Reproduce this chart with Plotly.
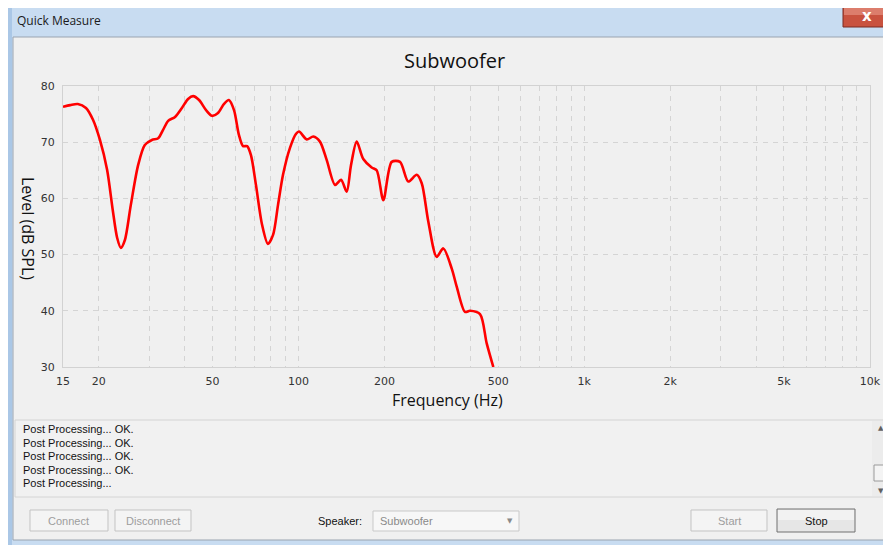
import plotly.graph_objects as go

# page body has an 8px margin, so the figure is drawn 8px in from the top-left
OX, OY = 8, 8
W, H = 891, 545

# ---- data ----
freq_hz = [15.0, 15.9, 16.9, 18.05, 19.1, 20.2, 21.4, 22.4, 23.2, 23.9, 24.7, 25.9, 27.5, 29.0,
           30.7, 32.3, 33.6, 35.0, 37.0, 39.1, 41.1, 42.8, 44.9, 47.5, 49.8, 52.3, 54.9, 57.1,
           59.5, 61.9, 64.0, 66.1, 68.2, 71.0, 74.6, 78.2, 81.5, 84.8, 88.3, 93.4, 98.1, 100.5,
           106.9, 112.7, 118.9, 125.6, 134.3, 140.9, 147.5, 152.7, 159.9, 168.6, 180.4, 187.8,
           198.2, 212.0, 226.7, 242.3, 259.3, 270.0, 284.7, 304.6, 321.3, 343.9, 357.9, 382.6,
           398.4, 431.8, 455.8, 480.8]
level_db = [76.3, 76.6, 76.8, 76.1, 74.0, 70.4, 65.1, 57.9, 53.0, 51.2, 52.6, 58.8, 66.0, 69.5,
            70.4, 70.7, 72.2, 73.8, 74.5, 76.1, 77.7, 78.2, 77.5, 75.7, 74.7, 75.2, 76.8, 77.5,
            75.7, 71.3, 69.3, 69.3, 67.7, 62.4, 55.3, 51.9, 53.5, 58.8, 64.2, 69.0, 71.5, 71.9,
            70.5, 71.0, 70.1, 66.8, 62.4, 63.3, 61.2, 65.9, 70.1, 67.0, 65.5, 65.0,
            59.7, 66.5, 66.5, 63.0, 64.2, 62.7, 55.9, 49.6, 51.1, 47.5, 44.3, 39.8,
            40.0, 39.4, 34.2, 30.0]

x_tick_vals = [15, 20, 50, 100, 200, 500, 1000, 2000, 5000, 10000]
x_tick_text = ["15", "20", "50", "100", "200", "500", "1k", "2k", "5k", "10k"]
x_grid_vals = [20, 30, 40, 50, 60, 70, 80, 90, 100, 200, 300, 400, 500, 600, 700, 800, 900,
               1000, 2000, 3000, 4000, 5000, 6000, 7000, 8000, 9000]
y_tick_vals = [30, 40, 50, 60, 70, 80]

log_lines = ["Post Processing... OK.", "Post Processing... OK.", "Post Processing... OK.",
             "Post Processing... OK.", "Post Processing..."]

# ---- helpers for pixel placement (page pixel coords) of window chrome ----
def px(x):
    return (x - OX) / W

def py(y):
    return 1 - (y - OY) / H

def rect(x0, y0, x1, y1, fill, line=None, lw=1):
    return dict(type="rect", xref="paper", yref="paper", x0=px(x0), x1=px(x1), y0=py(y1), y1=py(y0),
                fillcolor=fill, line=dict(color=line if line else fill, width=lw if line else 0),
                layer="below")

def text(x, y, s, size=11, color="#000", anchor="left", font="Liberation Sans", angle=0):
    return dict(x=px(x), y=py(y), xref="paper", yref="paper", text=s, showarrow=False,
                xanchor=anchor, yanchor="middle", textangle=angle,
                font=dict(size=size, color=color, family=font))

shapes = [
    rect(OX - 3, OY - 3, 905, 560, "#c8dcf1", "#5a6a7e", 1),
    rect(OX - 3, OY, 12, 545, "#aac7e6"),
    rect(13, 37, 905, 540, "#f0f0f0", "#9aa4b0", 1),
    rect(843, 7, 905, 27, "#c9523f", "#7a2a22", 1),
    rect(844, 8, 905, 15, "#dc7d6c"),
    # log box
    rect(15, 420, 889, 497, "#f1f1f1", "#d4d4d4", 1),
    rect(872, 421, 888, 496, "#ececec"),
    rect(874, 465, 887, 481, "#f4f4f4", "#9a9a9a", 1),
    # buttons
    rect(30, 510, 108, 531, "#f4f4f4", "#c3c3c3", 1),
    rect(115, 510, 191, 531, "#f4f4f4", "#c3c3c3", 1),
    rect(373, 511, 519, 531, "#f7f7f7", "#c9c9c9", 1),
    rect(691, 510, 767, 531, "#f4f4f4", "#c3c3c3", 1),
    rect(777, 509, 855, 532, "#e6e6e6", "#707070", 1),
    rect(778, 510, 854, 520, "#f2f2f2"),
]

annotations = [
    text(15, 21, "Quick Measure", 12, "#1a1a1a", font="Open Sans"),
    text(867, 16, "<b>x</b>", 15, "#ffffff", anchor="center", font="DejaVu Sans"),
    text(454, 61, "Subwoofer", 20, "#111111", anchor="center", font="Open Sans"),
    text(447, 400, "Frequency (Hz)", 16, "#111111", anchor="center", font="Open Sans"),
    text(28, 228, "Level (dB SPL)", 16, "#111111", anchor="center", font="Open Sans", angle=90),
    text(881, 428, "▲", 7, "#606060", anchor="center", font="DejaVu Sans"),
    text(881, 491, "▼", 7, "#606060", anchor="center", font="DejaVu Sans"),
    text(69, 521, "Connect", 11, "#9d9d9d", anchor="center"),
    text(153, 521, "Disconnect", 11, "#9d9d9d", anchor="center"),
    text(316, 521, "Speaker:", 11, "#111111"),
    text(378, 521, "Subwoofer", 11, "#8a8a8a"),
    text(510, 521, "▼", 7, "#8a8a8a", anchor="center", font="DejaVu Sans"),
    text(729, 521, "Start", 11, "#9d9d9d", anchor="center"),
    text(816, 521, "Stop", 11, "#111111", anchor="center"),
]
for i, s in enumerate(log_lines):
    annotations.append(text(21, 429 + i * 13.6, s, 11, "#111111"))

fig = go.Figure()
fig.add_trace(go.Scatter(x=freq_hz, y=level_db, mode="lines",
                         line=dict(color="#ff0000", width=2.6, shape="spline", smoothing=0.8),
                         hoverinfo="skip", showlegend=False))

grid_col = "#d4d4d4"
fig.update_layout(
    width=W, height=H,
    margin=dict(l=0, r=0, t=0, b=0, pad=0, autoexpand=False),
    paper_bgcolor="#ffffff",
    plot_bgcolor="#f0f0f0",
    showlegend=False,
    shapes=shapes,
    annotations=annotations,
    xaxis=dict(type="log", range=[1.176091, 4.0], domain=[px(63), px(870)],
               tickmode="array", tickvals=x_tick_vals, ticktext=x_tick_text,
               showgrid=False, zeroline=False,
               showline=True, mirror=True, linecolor="#d2d2d2", linewidth=1,
               ticks="outside", ticklen=4, tickcolor="rgba(0,0,0,0)",
               tickfont=dict(family="DejaVu Sans", size=11, color="#333333"),
               minor=dict(tickmode="array", tickvals=x_grid_vals, showgrid=True,
                          gridcolor=grid_col, griddash="5px,5px", gridwidth=1, ticks="")),
    yaxis=dict(range=[30, 80], domain=[py(367), py(86)],
               tickmode="array", tickvals=y_tick_vals,
               showgrid=True, gridcolor=grid_col, griddash="5px,5px", gridwidth=1, zeroline=False,
               showline=True, mirror=True, linecolor="#d2d2d2", linewidth=1,
               ticks="outside", ticklen=5, tickcolor="rgba(0,0,0,0)",
               tickfont=dict(family="DejaVu Sans", size=11, color="#333333")),
)

fig.write_html("out.html")
